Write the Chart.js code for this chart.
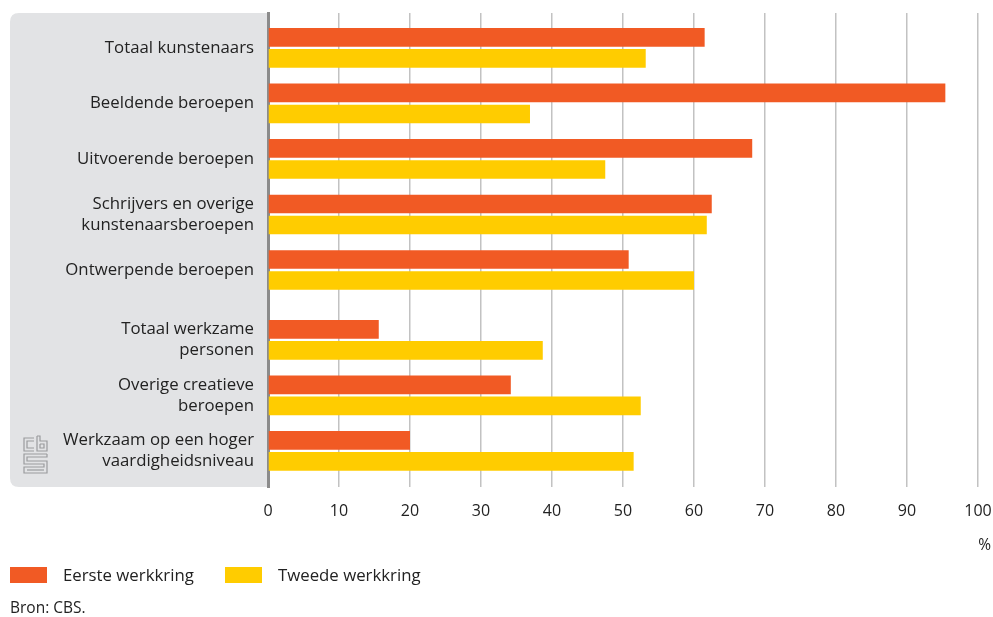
<!DOCTYPE html>
<html>
<head>
<meta charset="utf-8">
<script src="https://cdn.jsdelivr.net/npm/chart.js@4.4.1/dist/chart.umd.min.js"></script>
<style>
	html, body { margin: 0; padding: 0; background: #ffffff; }
	body { width: 993px; height: 617px; position: relative; overflow: hidden; font-family: "Open Sans", sans-serif; color: #222222; }
	#chart-container { position: absolute; left: 0; top: 0; width: 993px; height: 617px; }
	.legend { position: absolute; top: 563px; left: 10px; display: flex; align-items: center; font-size: 16.8px; }
	.legend-item { display: flex; align-items: center; }
	.legend-box { width: 37px; height: 16px; margin-right: 16px; }
	.source { position: absolute; left: 10px; top: 596px; font-size: 15.5px; }
</style>
</head>
<body>
<div id="chart-container"><canvas id="chart-canvas" width="993" height="617"></canvas></div>
<div class="legend">
	<div class="legend-item" style="width:215px"><div class="legend-box" style="background:#f15a24"></div><span>Eerste werkkring</span></div>
	<div class="legend-item"><div class="legend-box" style="background:#ffcc00"></div><span>Tweede werkkring</span></div>
</div>
<div class="source">Bron: CBS.</div>
<script>
const categories = [
	"Totaal kunstenaars",
	"Beeldende beroepen",
	"Uitvoerende beroepen",
	["Schrijvers en overige", "kunstenaarsberoepen"],
	"Ontwerpende beroepen",
	["Totaal werkzame", "personen"],
	["Overige creatieve", "beroepen"],
	["Werkzaam op een hoger", "vaardigheidsniveau"]
];
const eersteWerkkring = [61.5, 95.4, 68.2, 62.5, 50.8, 15.6, 34.2, 20.0];
const tweedeWerkkring = [53.2, 36.9, 47.5, 61.8, 60.0, 38.7, 52.5, 51.5];
const xTicks = [0, 10, 20, 30, 40, 50, 60, 70, 80, 90, 100];

// second group (from "Totaal werkzame personen") sits a bit lower
const groupGap = 0.26;
const positions = categories.map((c, i) => i < 5 ? i : i + groupGap);

const FONT = "'Open Sans', sans-serif";

const panelPlugin =
{
	id: "panel",
	beforeDraw(chart)
	{
		const ctx = chart.ctx;
		const area = chart.chartArea;
		const x0 = 10, x1 = area.left - 1, y0 = area.top, y1 = area.bottom, r = 9;
		ctx.save();
		ctx.fillStyle = "#e2e3e5";
		ctx.beginPath();
		ctx.moveTo(x1, y0);
		ctx.lineTo(x0 + r, y0);
		ctx.quadraticCurveTo(x0, y0, x0, y0 + r);
		ctx.lineTo(x0, y1 - r);
		ctx.quadraticCurveTo(x0, y1, x0 + r, y1);
		ctx.lineTo(x1, y1);
		ctx.closePath();
		ctx.fill();
		ctx.restore();
	},
	afterDraw(chart)
	{
		const ctx = chart.ctx;
		const area = chart.chartArea;
		ctx.save();
		// unit label
		ctx.fillStyle = "#222222";
		ctx.font = "15.5px " + FONT;
		ctx.textAlign = "right";
		ctx.textBaseline = "middle";
		ctx.fillText("%", area.right + 13, area.bottom + 59);

		// cbs logo
		ctx.strokeStyle = "#9a9b9d";
		ctx.lineWidth = 1.2;
		const lx = 23, ly = area.bottom - 52;
		const line = (pts) =>
		{
			ctx.beginPath();
			ctx.moveTo(lx + pts[0][0], ly + pts[0][1]);
			for(let p of pts.slice(1))
				ctx.lineTo(lx + p[0], ly + p[1]);
			ctx.stroke();
		};
		// c
		line([[11, 3], [1, 3], [1, 16], [11, 16]]);
		line([[11, 6], [4, 6], [4, 13], [11, 13]]);
		// b
		line([[14, 1], [14, 16], [24, 16], [24, 6], [17, 6], [17, 1], [14, 1]]);
		line([[17, 9], [21, 9], [21, 13], [17, 13], [17, 9]]);
		// S
		line([[24, 19], [1, 19], [1, 29], [21, 29], [21, 32], [1, 32], [1, 38], [24, 38], [24, 26], [4, 26], [4, 22], [24, 22], [24, 19]]);
		line([[4, 35], [21, 35]]);
		ctx.restore();
	}
};

new Chart(document.getElementById("chart-canvas").getContext("2d"),
{
	type: "bar",
	plugins: [panelPlugin],
	data:
	{
		datasets:
		[
			{
				label: "Eerste werkkring",
				data: eersteWerkkring.map((v, i) => ({ x: v, y: positions[i] })),
				backgroundColor: "#f15a24",
				borderWidth: 0
			},
			{
				label: "Tweede werkkring",
				data: tweedeWerkkring.map((v, i) => ({ x: v, y: positions[i] })),
				backgroundColor: "#ffcc00",
				borderWidth: 0
			}
		]
	},
	options:
	{
		indexAxis: "y",
		responsive: false,
		animation: false,
		categoryPercentage: 0.757,
		barPercentage: 0.89,
		layout: { padding: { top: 13, right: 15, left: 0, bottom: 0 } },
		plugins:
		{
			legend: { display: false },
			tooltip: { enabled: false }
		},
		scales:
		{
			x:
			{
				type: "linear",
				min: 0,
				max: 100,
				afterBuildTicks: (scale) => { scale.ticks = xTicks.map(v => ({ value: v })); },
				afterFit: (scale) =>
				{
					scale.height = 130;
					scale.paddingLeft = 0;
					scale.paddingRight = 0;
				},
				grid: { color: "#c2c2c2", lineWidth: 1.5, drawTicks: false },
				border: { display: false },
				ticks:
				{
					padding: 15,
					color: "#222222",
					font: { family: FONT, size: 16 }
				}
			},
			y:
			{
				type: "linear",
				reverse: true,
				offset: false,
				min: -0.63,
				max: 7.91,
				afterBuildTicks: (scale) => { scale.ticks = positions.map(v => ({ value: v })); },
				afterFit: (scale) =>
				{
					scale.width = 268;
					scale.paddingTop = 0;
					scale.paddingBottom = 0;
				},
				grid: { display: false, drawTicks: false },
				border: { display: true, color: "#8b8b8b", width: 3 },
				ticks:
				{
					padding: 14,
					color: "#222222",
					font: { family: FONT, size: 16.8, lineHeight: 1.26 },
					callback: (value, index) => categories[index]
				}
			}
		}
	}
});
</script>
</body>
</html>
